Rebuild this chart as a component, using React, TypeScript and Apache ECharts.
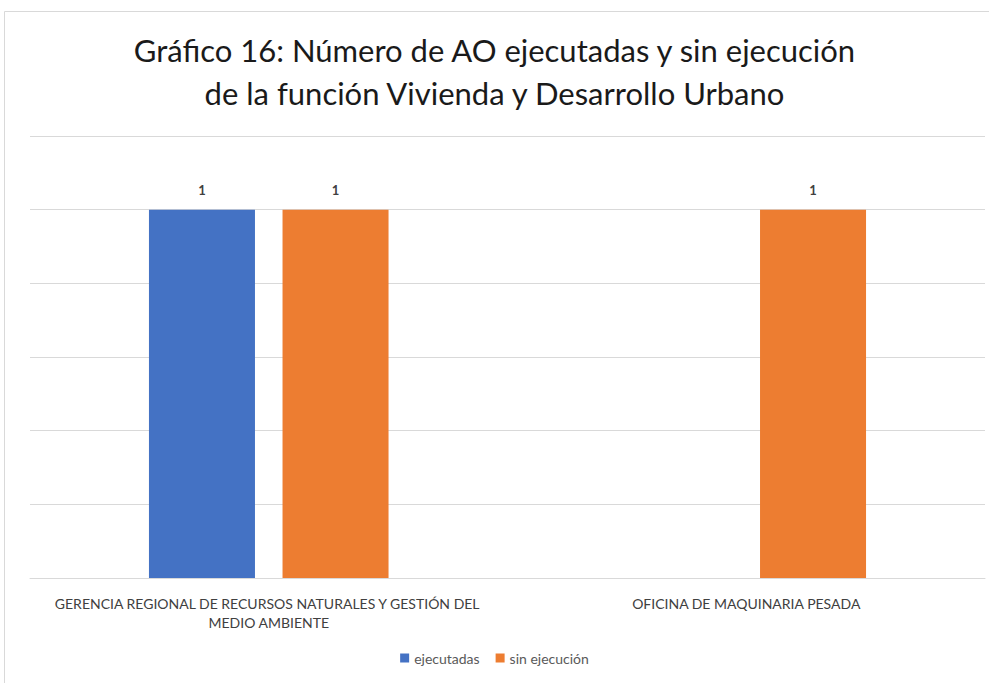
import React, { useEffect, useRef } from "react";
import * as echarts from "echarts";

const categories = [
  "GERENCIA REGIONAL DE RECURSOS NATURALES Y GESTIÓN DEL MEDIO AMBIENTE",
  "OFICINA DE MAQUINARIA PESADA",
];
const ejecutadas: (number | null)[] = [1, null];
const sinEjecucion: (number | null)[] = [1, 1];
const titleText = "Gráfico 16: Número de AO ejecutadas y sin ejecución\nde la función Vivienda y Desarrollo Urbano";

export default function App() {
  const ref = useRef<HTMLDivElement>(null);
  useEffect(() => {
    if (!ref.current) return;
    const chart = echarts.init(ref.current, undefined, { renderer: "svg" });
    const font = "Lato, 'Open Sans', sans-serif";
    chart.setOption({
      animation: false,
      backgroundColor: "#ffffff",
      textStyle: { fontFamily: font },
      title: {
        text: titleText,
        left: "center",
        top: 23,
        textStyle: { fontFamily: font, fontSize: 31, fontWeight: "normal", color: "#1a1a1a", lineHeight: 43 },
      },
      graphic: [
        {
          type: "rect",
          shape: { x: 4.5, y: 11.5, width: 1000, height: 700 },
          style: { fill: "none", stroke: "#d9d9d9", lineWidth: 1 },
          silent: true,
        },
      ],
      legend: {
        bottom: 13,
        left: "center",
        itemWidth: 9,
        itemHeight: 9,
        itemGap: 16,
        icon: "rect",
        textStyle: { fontFamily: font, fontSize: 14, color: "#595959" },
        data: ["ejecutadas", "sin ejecución"],
      },
      grid: { left: 30, right: 4, top: 136, bottom: 105, containLabel: false },
      xAxis: {
        type: "category",
        data: categories,
        axisTick: { show: false },
        axisLine: { lineStyle: { color: "#d9d9d9" } },
        axisLabel: {
          interval: 0,
          width: 445,
          overflow: "break",
          fontFamily: font,
          fontSize: 14,
          color: "#404040",
          lineHeight: 19,
          margin: 16,
        },
      },
      yAxis: {
        type: "value",
        min: 0,
        max: 1.2,
        interval: 0.2,
        axisLabel: { show: false },
        axisLine: { show: false },
        axisTick: { show: false },
        splitLine: { lineStyle: { color: "#d9d9d9" } },
      },
      series: [
        {
          name: "ejecutadas",
          type: "bar",
          data: ejecutadas,
          barWidth: "22.2%",
          barGap: "26%",
          itemStyle: { color: "#4472C4" },
          label: { show: true, position: "top", distance: 13, fontFamily: font, fontWeight: "bold", fontSize: 13, color: "#404040" },
        },
        {
          name: "sin ejecución",
          type: "bar",
          data: sinEjecucion,
          barWidth: "22.2%",
          barGap: "26%",
          itemStyle: { color: "#ED7D31" },
          label: { show: true, position: "top", distance: 13, fontFamily: font, fontWeight: "bold", fontSize: 13, color: "#404040" },
        },
      ],
    });
    return () => chart.dispose();
  }, []);
  return (
    <div style={{ position: "fixed", left: 0, top: 0, width: 989, height: 683, background: "#fff" }}>
      <div ref={ref} style={{ width: 989, height: 683 }} />
    </div>
  );
}
